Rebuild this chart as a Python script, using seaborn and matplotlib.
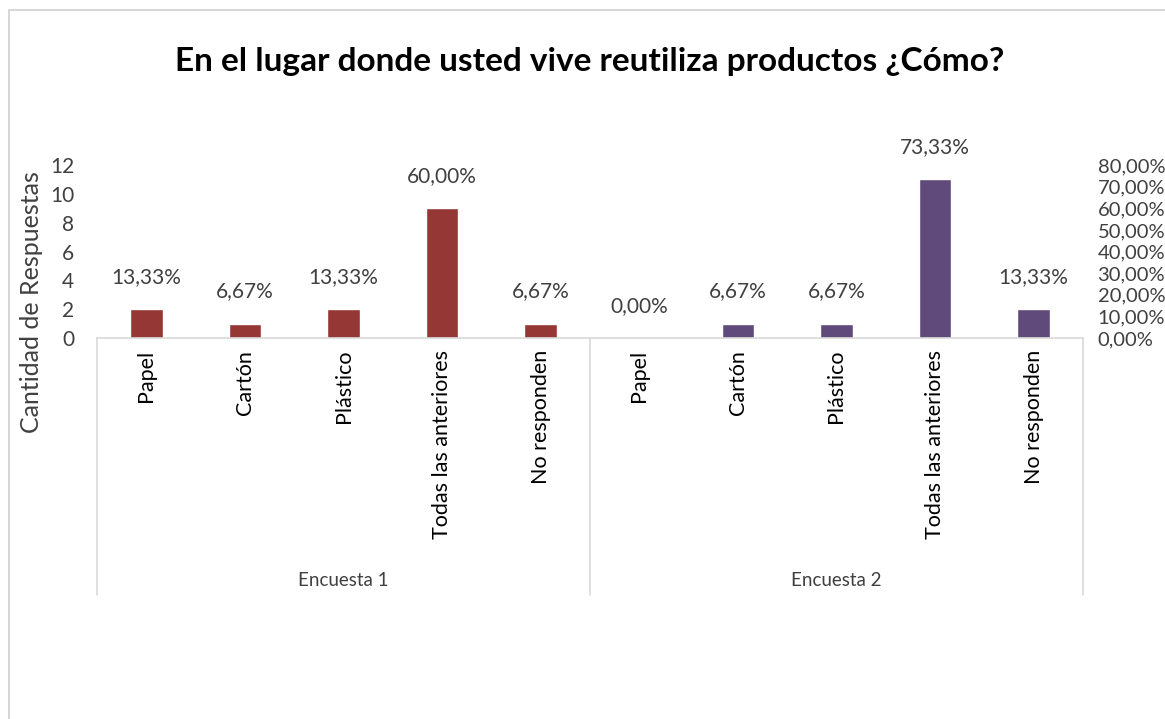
import matplotlib
matplotlib.use("Agg")
import matplotlib.pyplot as plt
import matplotlib.transforms as mtransforms
from matplotlib.patches import Rectangle
import seaborn as sns
import pandas as pd

# ---- data ----
categorias = ["Papel", "Cartón", "Plástico", "Todas las anteriores", "No responden"]
encuestas = ["Encuesta 1", "Encuesta 2"]
valores_e1 = [2, 1, 2, 9, 1]
valores_e2 = [0, 1, 1, 11, 2]
porcentajes_e1 = ["13,33%", "6,67%", "13,33%", "60,00%", "6,67%"]
porcentajes_e2 = ["0,00%", "6,67%", "6,67%", "73,33%", "13,33%"]
yticks_left = [0, 2, 4, 6, 8, 10, 12]
yticks_right = [0, 0.1, 0.2, 0.3, 0.4, 0.5, 0.6, 0.7, 0.8]
yticklabels_right = ["0,00%", "10,00%", "20,00%", "30,00%", "40,00%",
                     "50,00%", "60,00%", "70,00%", "80,00%"]
titulo = "En el lugar donde usted vive reutiliza productos ¿Cómo?"
ylabel = "Cantidad de Respuestas"

rows = []
for enc, vals, pcts in [(encuestas[0], valores_e1, porcentajes_e1),
                        (encuestas[1], valores_e2, porcentajes_e2)]:
    for cat, v, p in zip(categorias, vals, pcts):
        rows.append({"slot": f"{enc}|{cat}", "categoria": cat,
                     "encuesta": enc, "valor": v, "pct": p})
df = pd.DataFrame(rows)

sns.set_theme(style="white")
plt.rcParams["font.family"] = ["Lato", "DejaVu Sans"]

W, H = 1165, 719
fig = plt.figure(figsize=(W / 100, H / 100), dpi=100)
fig.patch.set_facecolor("white")

# outer chart border
fig.add_artist(Rectangle((9 / W, -0.1), 1.2, 1.1 - 10 / H, transform=fig.transFigure,
                         fill=False, edgecolor="#d0d0d0", linewidth=1.2))

ax_left, ax_right = 97, 1083
ax_top, ax_bot = 165, 338
ax = fig.add_axes([ax_left / W, 1 - ax_bot / H, (ax_right - ax_left) / W,
                   (ax_bot - ax_top) / H])

palette = {"Encuesta 1": "#953735", "Encuesta 2": "#604A7B"}
sns.barplot(data=df, x="slot", y="valor", hue="encuesta", dodge=False,
            palette=palette, width=0.33, ax=ax, legend=False,
            order=df["slot"].tolist(), saturation=1)

ax.set_ylim(0, 12)
ax.set_xlim(-0.5, len(df) - 0.5)
ax.set_yticks(yticks_left)
ax.set_yticklabels([str(t) for t in yticks_left], fontsize=15, color="#404040")
ax.tick_params(axis="y", length=0, pad=16.5)
ax.set_xticks(range(len(df)))
ax.set_xticklabels(df["categoria"], rotation=90, fontsize=15.5, color="#000000",
                   va="top", ha="center")
ax.tick_params(axis="x", length=0, pad=8.5)
ax.set_xlabel("")
ax.set_ylabel("")
for s in ["left", "right", "top"]:
    ax.spines[s].set_visible(False)
ax.spines["bottom"].set_color("#d9d9d9")
ax.spines["bottom"].set_linewidth(1.2)

# data labels
for i, (v, p) in enumerate(zip(df["valor"], df["pct"])):
    ax.annotate(p, (i, v), xytext=(0, 16), textcoords="offset points",
                ha="center", va="bottom", fontsize=15, color="#404040")

# group separators and group labels
trans = mtransforms.blended_transform_factory(ax.transData, ax.transAxes)
depth = -(595 - ax_bot) / (ax_bot - ax_top)
for xb in [-0.5, 4.5, 9.5]:
    ax.plot([xb, xb], [0, depth], transform=trans, color="#d9d9d9",
            linewidth=1.2, clip_on=False)
for gi, enc in enumerate(encuestas):
    ax.text(gi * 5 + 2, -(580 - ax_bot) / (ax_bot - ax_top), enc,
            transform=trans, ha="center", va="center", fontsize=13.5,
            color="#404040")

# secondary axis
ax2 = ax.twinx()
ax2.set_ylim(0, 0.8)
ax2.set_yticks(yticks_right)
ax2.set_yticklabels(yticklabels_right, fontsize=14.5, color="#404040")
ax2.tick_params(axis="y", length=0, pad=10.5)
for s in ["left", "right", "top", "bottom"]:
    ax2.spines[s].set_visible(False)

fig.text(32 / W, 1 - 302 / H, ylabel, rotation=90, ha="center", va="center",
         fontsize=18, color="#404040")
fig.text(590 / W, 1 - 62 / H, titulo, ha="center", va="center",
         fontsize=24, fontweight="bold", color="#000000")

fig.savefig("out.png", dpi=100, facecolor="white")
